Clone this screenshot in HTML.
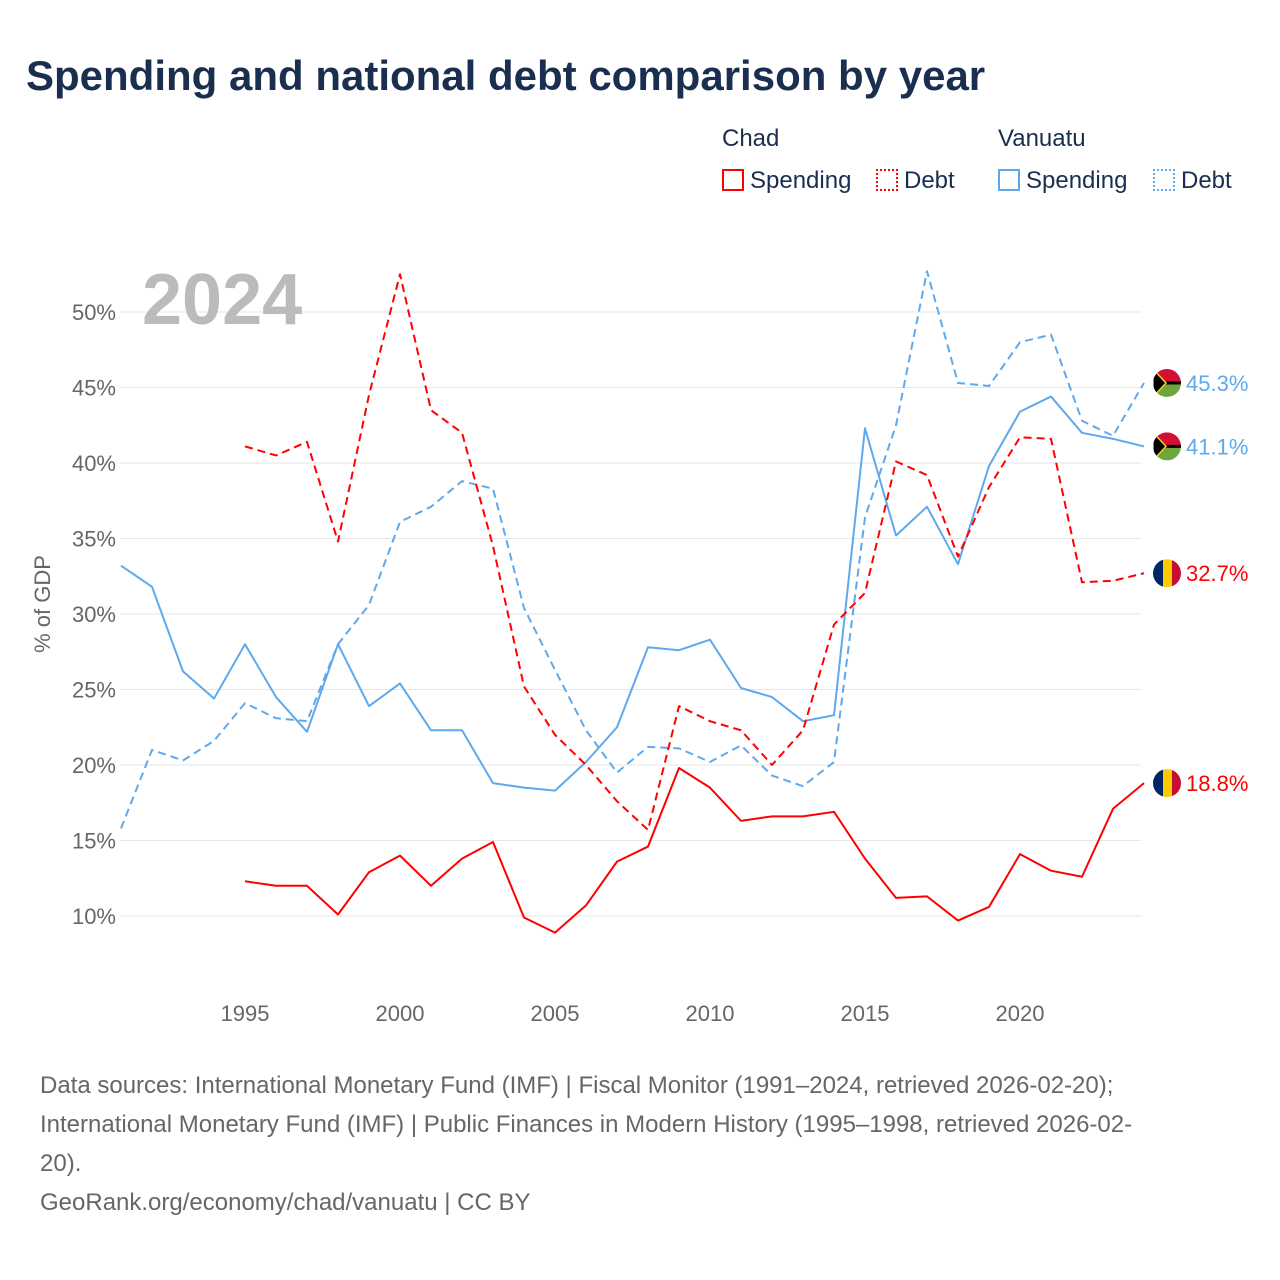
<!DOCTYPE html>
<html><head><meta charset="utf-8"><style>
body{margin:0;background:#fff;font-family:"Liberation Sans",sans-serif;}
#wrap{position:relative;width:1280px;height:1280px;overflow:hidden}
.t{position:absolute;white-space:nowrap}
</style></head><body>
<div id="wrap">
<div class="t" style="left:26px;top:52px;font-size:42px;font-weight:bold;color:#1a2e4f">Spending and national debt comparison by year</div>
<div class="t" style="left:722px;top:125px;font-size:24px;color:#1a2e4f">Chad</div>
<div class="t" style="left:998px;top:125px;font-size:24px;color:#1a2e4f">Vanuatu</div>
<div class="t" style="left:722px;top:167px;font-size:24px;color:#1a2e4f"><span style="display:inline-block;width:22px;height:22px;border:2px solid #f00;box-sizing:border-box;vertical-align:-3px;margin-right:6px"></span>Spending</div>
<div class="t" style="left:876px;top:167px;font-size:24px;color:#1a2e4f"><span style="display:inline-block;width:22px;height:22px;border:2px dotted #f00;box-sizing:border-box;vertical-align:-3px;margin-right:6px"></span>Debt</div>
<div class="t" style="left:998px;top:167px;font-size:24px;color:#1a2e4f"><span style="display:inline-block;width:22px;height:22px;border:2px solid #5ea9ee;box-sizing:border-box;vertical-align:-3px;margin-right:6px"></span>Spending</div>
<div class="t" style="left:1153px;top:167px;font-size:24px;color:#1a2e4f"><span style="display:inline-block;width:22px;height:22px;border:2px dotted #5ea9ee;box-sizing:border-box;vertical-align:-3px;margin-right:6px"></span>Debt</div>
<svg id="chart" width="1280" height="1280" style="position:absolute;left:0;top:0"></svg>
<div class="t" style="left:40px;top:1066px;font-size:24px;line-height:39px;color:#666;white-space:normal;width:1220px">Data sources: International Monetary Fund (IMF) | Fiscal Monitor (1991–2024, retrieved 2026-02-20);<br>International Monetary Fund (IMF) | Public Finances in Modern History (1995–1998, retrieved 2026-02-<br>20).<br>GeoRank.org/economy/chad/vanuatu | CC BY</div>
</div>
<script>
const yTicks=[10,15,20,25,30,35,40,45,50];
const xTicks=[1995,2000,2005,2010,2015,2020];
const chadYears=[1995,1996,1997,1998,1999,2000,2001,2002,2003,2004,2005,2006,2007,2008,2009,2010,2011,2012,2013,2014,2015,2016,2017,2018,2019,2020,2021,2022,2023,2024];
const chadSpending=[12.3,12.0,12.0,10.1,12.9,14.0,12.0,13.8,14.9,9.9,8.9,10.7,13.6,14.6,19.8,18.5,16.3,16.6,16.6,16.9,13.8,11.2,11.3,9.7,10.6,14.1,13.0,12.6,17.1,18.8];
const chadDebt=[41.1,40.5,41.4,34.8,44.5,52.5,43.5,42.0,34.5,25.2,22.0,20.0,17.6,15.7,23.9,22.9,22.3,20.0,22.3,29.3,31.4,40.1,39.2,33.8,38.4,41.7,41.6,32.1,32.2,32.7];
const vanYears=[1991,1992,1993,1994,1995,1996,1997,1998,1999,2000,2001,2002,2003,2004,2005,2006,2007,2008,2009,2010,2011,2012,2013,2014,2015,2016,2017,2018,2019,2020,2021,2022,2023,2024];
const vanSpending=[33.2,31.8,26.2,24.4,28.0,24.5,22.2,28.0,23.9,25.4,22.3,22.3,18.8,18.5,18.3,20.2,22.5,27.8,27.6,28.3,25.1,24.5,22.9,23.3,42.3,35.2,37.1,33.3,39.8,43.4,44.4,42.0,41.6,41.1];
const vanDebt=[15.8,21.0,20.3,21.6,24.1,23.1,22.9,28.0,30.6,36.1,37.1,38.8,38.3,30.4,26.3,22.3,19.5,21.2,21.1,20.2,21.3,19.3,18.6,20.2,36.4,42.5,52.7,45.3,45.1,48.0,48.5,42.8,41.8,45.3];
const NS="http://www.w3.org/2000/svg";
const svg=document.getElementById('chart');
const X=y=>245+(y-1995)*31, Y=v=>916-(v-10)*15.1;
function mk(tag,attrs,parent){const e=document.createElementNS(NS,tag);for(const k in attrs)e.setAttribute(k,attrs[k]);(parent||svg).appendChild(e);return e;}
yTicks.forEach(v=>{
  const l=mk('line',{x1:120,x2:1141,y1:Y(v),y2:Y(v),stroke:'#e6e6e6','stroke-width':1});
  
  
  const t=mk('text',{x:116,y:Y(v)+8,'text-anchor':'end','font-size':22,fill:'#666','font-family':'Liberation Sans, sans-serif'});
  t.textContent=v+'%';
  
  
});
xTicks.forEach(v=>{
  const t=mk('text',{x:X(v),y:1021,'text-anchor':'middle','font-size':22,fill:'#666','font-family':'Liberation Sans, sans-serif'});
  t.textContent=v;
  
  
});
const yt=mk('text',{x:0,y:0,transform:'translate(50,604) rotate(-90)','text-anchor':'middle','font-size':22,fill:'#666','font-family':'Liberation Sans, sans-serif'});
yt.textContent='% of GDP';


const yr=mk('text',{x:142,y:324,'font-size':72,'font-weight':'bold',fill:'#bbb','font-family':'Liberation Sans, sans-serif'});
yr.textContent='2024';


function line(xs,vs,color,dash,name){
  const d=xs.map((y,i)=>(i?'L':'M')+X(y)+','+Y(vs[i])).join(' ');
  const p=mk('path',{d:d,fill:'none',stroke:color,'stroke-width':2,'stroke-dasharray':dash||'none','stroke-linejoin':'round'});
  
  
}
line(vanYears,vanDebt,'#5ea9ee','8,5','vanuatu-debt-line');
line(vanYears,vanSpending,'#5ea9ee','','vanuatu-spending-line');
line(chadYears,chadDebt,'#f00','8,5','chad-debt-line');
line(chadYears,chadSpending,'#f00','','chad-spending-line');
function endLabel(v,color,flag,name){
  const cy=Y(v), cx=1167;
  const g=mk('g',{});
  
  
  const cp='c'+Math.round(cy);
  const clip=mk('clipPath',{id:cp},g);mk('circle',{cx:cx,cy:cy,r:14},clip);
  const fg=mk('g',{'clip-path':'url(#'+cp+')'},g);
  if(flag==='td'){
    mk('rect',{x:cx-14,y:cy-14,width:10,height:28,fill:'#002664'},fg);
    mk('rect',{x:cx-4,y:cy-14,width:9,height:28,fill:'#fecb00'},fg);
    mk('rect',{x:cx+5,y:cy-14,width:10,height:28,fill:'#c60c30'},fg);
  }else{
    mk('rect',{x:cx-14,y:cy-14,width:28,height:14,fill:'#d21034'},fg);
    mk('rect',{x:cx-14,y:cy,width:28,height:14,fill:'#6fa53e'},fg);
    mk('rect',{x:cx-14,y:cy-1.5,width:28,height:3,fill:'#000'},fg);
    mk('path',{d:`M${cx-14},${cy-14} L${cx-1},${cy} L${cx-14},${cy+14}Z`,fill:'#000',stroke:'#fdce12','stroke-width':1.5},fg);
  }
  const t=mk('text',{x:1186,y:cy+8,'font-size':22,fill:color,'font-family':'Liberation Sans, sans-serif'},g);
  t.textContent=v.toFixed(1)+'%';
}
endLabel(vanDebt[vanDebt.length-1],'#5ea9ee','vu','vanuatu-debt-end-label');
endLabel(vanSpending[vanSpending.length-1],'#5ea9ee','vu','vanuatu-spending-end-label');
endLabel(chadDebt[chadDebt.length-1],'#f00','td','chad-debt-end-label');
endLabel(chadSpending[chadSpending.length-1],'#f00','td','chad-spending-end-label');
</script>
</body></html>
